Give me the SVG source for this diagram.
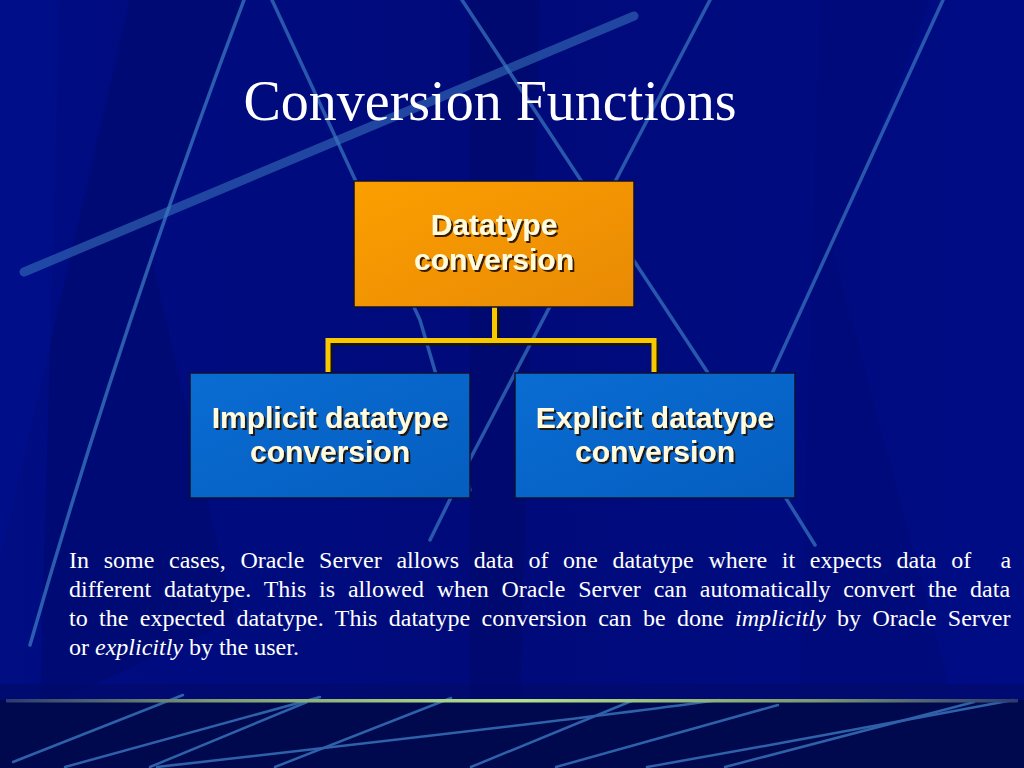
<svg xmlns="http://www.w3.org/2000/svg" width="1024" height="768" viewBox="0 0 1024 768">
<defs>
<linearGradient id="bg" x1="0" y1="0" x2="1" y2="0">
<stop offset="0" stop-color="#000c82"/>
<stop offset="0.5" stop-color="#000a7a"/>
<stop offset="1" stop-color="#000c84"/>
</linearGradient>
<linearGradient id="gline" x1="0" y1="0" x2="1" y2="0">
<stop offset="0" stop-color="#2a3a70"/>
<stop offset="0.2" stop-color="#7a9a70"/>
<stop offset="0.5" stop-color="#b4e488"/>
<stop offset="0.8" stop-color="#7a9a70"/>
<stop offset="1" stop-color="#2a3a70"/>
</linearGradient>
<linearGradient id="orange" x1="0" y1="0" x2="1" y2="1">
<stop offset="0" stop-color="#fb9f00"/>
<stop offset="1" stop-color="#e98a05"/>
</linearGradient>
<linearGradient id="blue" x1="0" y1="0" x2="1" y2="1">
<stop offset="0" stop-color="#0a6cd2"/>
<stop offset="1" stop-color="#055ec0"/>
</linearGradient>
<filter id="sh" x="-10%" y="-20%" width="130%" height="150%">
<feDropShadow dx="2" dy="2" stdDeviation="0.6" flood-color="#201000" flood-opacity="0.9"/>
</filter>
</defs>
<style>
.bgl{stroke:#3a78c0;fill:none;stroke-linecap:round}
.box{stroke:#101030;stroke-width:1.5}
.lbl{font-family:"Liberation Sans",Arial,sans-serif;font-weight:bold;font-size:30px;fill:#fffbdc;text-anchor:middle;filter:url(#sh)}
.conn{stroke:#f8c800;stroke-width:5;fill:none}
.connsh{stroke:#1a1400;stroke-width:5;fill:none}
.para{font-family:"Liberation Serif","Times New Roman",serif;font-size:24px;fill:#ffffff}
</style>
<g id="background">
<rect x="0" y="0" width="1024" height="768" fill="url(#bg)"/>
<polygon points="130,0 245,0 150,250 235,620 60,700 0,700 0,560" fill="#000a6e" opacity="0.6"/>
<polygon points="470,0 540,0 520,700 470,700" fill="#000866" opacity="0.5"/>
<polygon points="820,0 930,0 833,250 950,690 800,700" fill="#000a70" opacity="0.4"/>
<polygon points="0,0 60,0 40,700 0,700" fill="#001090" opacity="0.5"/>
<path class="bgl" d="M 24 272 L 634 16" stroke-width="9" opacity="0.55"/>
<path class="bgl" d="M 244 0 Q 120 330 30 645" stroke-width="3.5" opacity="0.75"/>
<path class="bgl" d="M 272 0 L 420 320 L 470 490" stroke-width="3.5" opacity="0.7"/>
<path class="bgl" d="M 462 0 L 706 370 L 815 545" stroke-width="3.5" opacity="0.7"/>
<path class="bgl" d="M 710 0 L 466 467 L 430 540" stroke-width="3.5" opacity="0.7"/>
<path class="bgl" d="M 943 0 L 770 378" stroke-width="3.5" opacity="0.7"/>
<rect x="0" y="700" width="1024" height="68" fill="#00084e"/>
<rect x="0" y="684" width="1024" height="16" fill="#000a68" opacity="0.6"/>
<g class="bgl" stroke-width="2.5" opacity="0.8">
<path d="M 183 695 L 13 762"/>
<path d="M 320 697 L 65 767"/>
<path d="M 307 702 L 150 767"/>
<path d="M 451 698 L 275 767"/>
<path d="M 719 700 Q 575 720 157 767"/>
<path d="M 634 700 L 471 767"/>
<path d="M 778 705 L 556 767"/>
<path d="M 1013 700 Q 800 740 647 767"/>
<path d="M 974 702 L 725 767"/>
</g>
<rect x="6" y="699" width="1012" height="3.5" fill="url(#gline)"/>
</g>
<text id="title" x="490" y="120" font-family="'Liberation Serif','Times New Roman',serif" font-size="56" fill="#ffffff" text-anchor="middle">Conversion Functions</text>
<g id="connectors">
<path class="connsh" d="M 497 309 V 343 M 330 343 H 657 M 330 343 V 373 M 656 343 V 373"/>
<path class="conn" d="M 494.5 307 V 340.5 M 328 340.5 H 654 M 328 338 V 372 M 654 338 V 372"/>
</g>
<g id="node-datatype">
<rect class="box" x="354" y="181" width="280" height="126" fill="url(#orange)"/>
<text class="lbl" x="494" y="235">Datatype</text>
<text class="lbl" x="494" y="270">conversion</text>
</g>
<g id="node-implicit">
<rect class="box" x="190" y="373" width="280" height="125" fill="url(#blue)"/>
<text class="lbl" x="330" y="428">Implicit datatype</text>
<text class="lbl" x="330" y="462">conversion</text>
</g>
<g id="node-explicit">
<rect class="box" x="515" y="373" width="280" height="125" fill="url(#blue)"/>
<text class="lbl" x="655" y="428">Explicit datatype</text>
<text class="lbl" x="655" y="462">conversion</text>
</g>
<g id="description">
<text class="para" x="69" y="568" xml:space="preserve" word-spacing="8.7">In some cases, Oracle Server allows data of one datatype where it expects data of  a</text>
<text class="para" x="69" y="597" word-spacing="6.8">different datatype. This is allowed when Oracle Server can automatically convert the data</text>
<text class="para" x="69" y="626" word-spacing="5.4">to the expected datatype. This datatype conversion can be done <tspan font-style="italic">implicitly</tspan> by Oracle Server</text>
<text class="para" x="69" y="655">or <tspan font-style="italic">explicitly</tspan> by the user.</text>
</g>
</svg>
